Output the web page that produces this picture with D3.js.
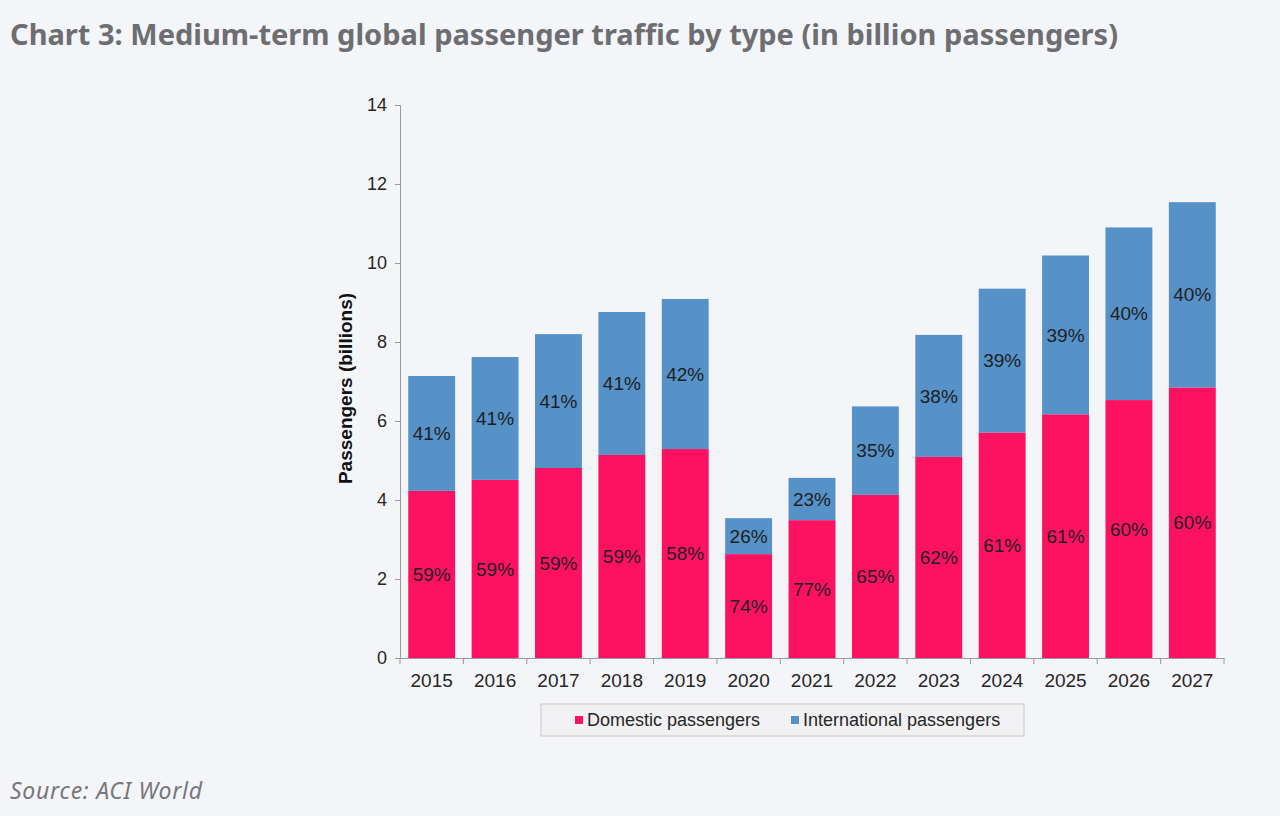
<!DOCTYPE html>
<html>
<head>
<meta charset="utf-8">
<script src="https://cdn.jsdelivr.net/npm/d3@7"></script>
<style>
  body { margin: 0; background: #f4f5f9; }
  svg { display: block; }
</style>
</head>
<body>
<div id="chart"></div>
<script>
// values (billion passengers)
const years = ['2015','2016','2017','2018','2019','2020','2021','2022','2023','2024','2025','2026','2027'];
const domestic = [4.23, 4.51, 4.81, 5.14, 5.29, 2.63, 3.49, 4.13, 5.09, 5.71, 6.17, 6.53, 6.85];
const international = [2.91, 3.11, 3.39, 3.62, 3.80, 0.91, 1.07, 2.24, 3.09, 3.64, 4.02, 4.37, 4.69];
const domesticShare = ['59%','59%','59%','59%','58%','74%','77%','65%','62%','61%','61%','60%','60%'];
const internationalShare = ['41%','41%','41%','41%','42%','26%','23%','35%','38%','39%','39%','40%','40%'];
const seriesNames = ['Domestic passengers', 'International passengers'];
const yTicks = [0, 2, 4, 6, 8, 10, 12, 14];

const colors = ['#fd1262', '#5692c8'];

const W = 1280, H = 816;
const margin = { top: 105, right: 56, bottom: 158, left: 400 };
const width = W - margin.left - margin.right,
    height = H - margin.top - margin.bottom;

const svg = d3.select('#chart')
    .append('svg')
    .attr('width', W)
    .attr('height', H);

svg.append('rect').attr('width', W).attr('height', H).attr('fill', '#f4f5f9');

svg.append('text')
    .attr('x', 10)
    .attr('y', 45)
    .attr('font-family', 'Noto Sans, sans-serif')
    .attr('font-weight', 700)
    .attr('font-size', 29)
    .attr('fill', '#6d6e72')
    .attr('textLength', 1108)
    .text('Chart 3: Medium-term global passenger traffic by type (in billion passengers)');

svg.append('text')
    .attr('x', 10)
    .attr('y', 799)
    .attr('font-family', 'Noto Sans, sans-serif')
    .attr('font-style', 'italic')
    .attr('font-size', 23)
    .attr('fill', '#77787c')
    .attr('textLength', 192)
    .text('Source: ACI World');

const g = svg.append('g')
    .attr('transform', `translate(${margin.left}, ${margin.top})`);

const table = years.map((y, i) => ({
    year: y,
    domestic: domestic[i],
    international: international[i],
    labels: [domesticShare[i], internationalShare[i]]
}));

const stacked = d3.stack().keys(['domestic', 'international'])(table);

const x = d3.scaleBand()
    .domain(years)
    .range([0, width])
    .paddingInner(0.26)
    .paddingOuter(0.13);
const y = d3.scaleLinear()
    .domain([0, 14])
    .range([height, 0]);

// stacked bars
const layer = g.selectAll('.layer')
    .data(stacked)
    .enter().append('g')
    .attr('class', 'layer')
    .attr('fill', (d, i) => colors[i]);

layer.selectAll('rect')
    .data(d => d)
    .enter().append('rect')
    .attr('x', d => x(d.data.year))
    .attr('y', d => y(d[1]))
    .attr('width', x.bandwidth())
    .attr('height', d => y(d[0]) - y(d[1]));

// percentage labels in each segment
stacked.forEach((s, si) => {
    g.selectAll('.lbl' + si)
        .data(s)
        .enter().append('text')
        .attr('class', 'lbl' + si)
        .attr('x', d => x(d.data.year) + x.bandwidth() / 2)
        .attr('y', d => (y(d[0]) + y(d[1])) / 2)
        .attr('dy', '0.35em')
        .attr('text-anchor', 'middle')
        .attr('font-family', 'Liberation Sans, Arial, sans-serif')
        .attr('font-size', 19)
        .attr('fill', '#1e1e24')
        .text(d => d.data.labels[si]);
});

// axes
const xAxis = g.append('g')
    .attr('class', 'xaxis')
    .attr('transform', `translate(0, ${height})`)
    .call(d3.axisBottom(x).tickSize(0).tickPadding(16));
// tick marks between categories
const step = x.step();
xAxis.selectAll('.sep')
    .data(d3.range(years.length + 1))
    .enter().append('line')
    .attr('class', 'sep')
    .attr('x1', i => i * step)
    .attr('x2', i => i * step)
    .attr('y1', 0)
    .attr('y2', 6)
    .attr('stroke', '#9a9a9a');

const yAxis = g.append('g')
    .attr('class', 'yaxis')
    .call(d3.axisLeft(y).tickValues(yTicks).tickSize(5).tickPadding(8));

[xAxis, yAxis].forEach(a => {
    a.select('.domain').attr('stroke', '#9a9a9a');
    a.selectAll('.tick line').attr('stroke', '#9a9a9a');
    a.selectAll('text')
        .attr('font-family', 'Liberation Sans, Arial, sans-serif')
        .attr('fill', '#262626');
});
xAxis.selectAll('text').attr('font-size', 19);
yAxis.selectAll('text').attr('font-size', 18);

g.append('text')
    .attr('transform', `translate(-48, ${height / 2 + 7}) rotate(-90)`)
    .attr('text-anchor', 'middle')
    .attr('font-family', 'Liberation Sans, Arial, sans-serif')
    .attr('font-weight', 700)
    .attr('font-size', 19)
    .attr('fill', '#111')
    .text('Passengers (billions)');

// legend
const legend = svg.append('g')
    .attr('transform', 'translate(541, 704)');
legend.append('rect')
    .attr('width', 483)
    .attr('height', 32)
    .attr('fill', '#f1f1f3')
    .attr('stroke', '#c8c8c8');
const legendX = [34, 250];
seriesNames.forEach((n, i) => {
    legend.append('rect')
        .attr('x', legendX[i])
        .attr('y', 12)
        .attr('width', 8)
        .attr('height', 8)
        .attr('fill', colors[i]);
    legend.append('text')
        .attr('x', legendX[i] + 12)
        .attr('y', 22)
        .attr('font-family', 'Liberation Sans, Arial, sans-serif')
        .attr('font-size', 18)
        .attr('fill', '#262626')
        .text(n);
});
</script>
</body>
</html>
